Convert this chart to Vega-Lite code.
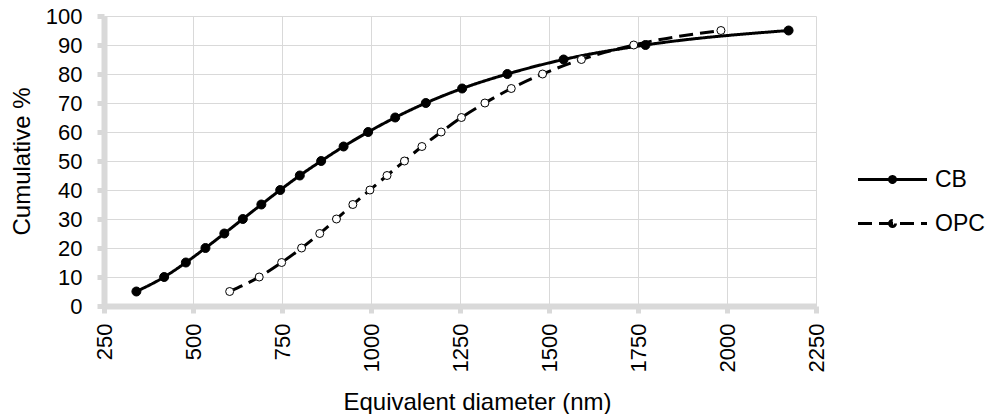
{
  "$schema": "https://vega.github.io/schema/vega-lite/v6.json",
  "width": 712,
  "height": 290,
  "autosize": {"type": "none"},
  "padding": {"left": 104, "top": 16, "right": 172, "bottom": 108},
  "background": "white",
  "config": {
    "font": "Liberation Sans",
    "view": {"stroke": null},
    "axis": {
      "gridColor": "#d9d9d9",
      "gridWidth": 1,
      "domainColor": "#d9d9d9",
      "domainWidth": 6,
      "tickColor": "#d9d9d9",
      "tickWidth": 5,
      "tickSize": 7,
      "labelFont": "Liberation Sans",
      "labelFontSize": 22,
      "labelColor": "#000000",
      "titleFont": "Liberation Sans",
      "titleFontSize": 24,
      "titleFontWeight": "normal",
      "titleColor": "#000000"
    },
    "legend": {
      "labelFont": "Liberation Sans",
      "labelFontSize": 23,
      "labelColor": "#000000",
      "labelOffset": 31,
      "rowPadding": 20,
      "padding": 0
    }
  },
  "data": {
    "values": [
      {"series": "CB", "dia": 341, "cum": 5},
      {"series": "CB", "dia": 419, "cum": 10},
      {"series": "CB", "dia": 480, "cum": 15},
      {"series": "CB", "dia": 535, "cum": 20},
      {"series": "CB", "dia": 588, "cum": 25},
      {"series": "CB", "dia": 640, "cum": 30},
      {"series": "CB", "dia": 692, "cum": 35},
      {"series": "CB", "dia": 745, "cum": 40},
      {"series": "CB", "dia": 800, "cum": 45},
      {"series": "CB", "dia": 860, "cum": 50},
      {"series": "CB", "dia": 923, "cum": 55},
      {"series": "CB", "dia": 992, "cum": 60},
      {"series": "CB", "dia": 1068, "cum": 65},
      {"series": "CB", "dia": 1154, "cum": 70},
      {"series": "CB", "dia": 1256, "cum": 75},
      {"series": "CB", "dia": 1383, "cum": 80},
      {"series": "CB", "dia": 1541, "cum": 85},
      {"series": "CB", "dia": 1771, "cum": 90},
      {"series": "CB", "dia": 2173, "cum": 95},
      {"series": "OPC", "dia": 603, "cum": 5},
      {"series": "OPC", "dia": 686, "cum": 10},
      {"series": "OPC", "dia": 749, "cum": 15},
      {"series": "OPC", "dia": 805, "cum": 20},
      {"series": "OPC", "dia": 856, "cum": 25},
      {"series": "OPC", "dia": 903, "cum": 30},
      {"series": "OPC", "dia": 949, "cum": 35},
      {"series": "OPC", "dia": 997, "cum": 40},
      {"series": "OPC", "dia": 1045, "cum": 45},
      {"series": "OPC", "dia": 1094, "cum": 50},
      {"series": "OPC", "dia": 1143, "cum": 55},
      {"series": "OPC", "dia": 1197, "cum": 60},
      {"series": "OPC", "dia": 1254, "cum": 65},
      {"series": "OPC", "dia": 1320, "cum": 70},
      {"series": "OPC", "dia": 1394, "cum": 75},
      {"series": "OPC", "dia": 1482, "cum": 80},
      {"series": "OPC", "dia": 1591, "cum": 85},
      {"series": "OPC", "dia": 1738, "cum": 90},
      {"series": "OPC", "dia": 1983, "cum": 95}
    ]
  },
  "encoding": {
    "x": {
      "field": "dia",
      "type": "quantitative",
      "scale": {"domain": [250, 2250], "nice": false, "zero": false},
      "axis": {
        "title": "Equivalent diameter (nm)",
        "values": [250, 500, 750, 1000, 1250, 1500, 1750, 2000, 2250],
        "format": "d",
        "labelAngle": -90,
        "labelPadding": 10,
        "titleX": 373,
        "titleY": 103,
        "titleBaseline": "alphabetic",
        "titleAnchor": "middle",
        "titleAlign": "center"
      }
    },
    "y": {
      "field": "cum",
      "type": "quantitative",
      "scale": {"domain": [0, 100], "nice": false},
      "axis": {
        "title": "Cumulative %",
        "values": [0, 10, 20, 30, 40, 50, 60, 70, 80, 90, 100],
        "labelPadding": 15,
        "titleX": -82,
        "titleY": 145,
        "titleAngle": -90,
        "titleBaseline": "middle",
        "titleAlign": "center"
      }
    }
  },
  "layer": [
    {
      "mark": {"type": "line", "color": "#000000", "strokeWidth": 3, "interpolate": "monotone"},
      "encoding": {
        "strokeDash": {
          "field": "series",
          "type": "nominal",
          "scale": {"domain": ["CB", "OPC"], "range": [[1, 0], [14, 7]]},
          "legend": {
            "title": null,
            "orient": "none",
            "legendX": 777,
            "legendY": 152,
            "symbolType": "M-34.5,0H34.5M3,0A3,3,0,1,1,-3,0A3,3,0,1,1,3,0",
            "symbolSize": 4,
            "symbolStrokeWidth": 3,
            "symbolStrokeColor": "#000000",
            "symbolFillColor": "#000000",
            "encode": {
              "symbols": {
                "update": {
                  "fill": {"signal": "datum.value === 'CB' ? '#000000' : '#ffffff'"},
                  "fillOpacity": {"value": 1},
                  "stroke": {"value": "#000000"},
                  "strokeWidth": {"value": 3},
                  "strokeOpacity": {"value": 1}
                }
              }
            }
          }
        }
      }
    },
    {
      "mark": {"type": "point", "filled": false, "stroke": "#000000", "strokeWidth": 1, "opacity": 1},
      "encoding": {
        "fill": {
          "condition": {"test": "datum.series === 'CB'", "value": "#000000"},
          "value": "#ffffff"
        },
        "size": {
          "condition": {"test": "datum.series === 'CB'", "value": 81},
          "value": 64
        }
      }
    }
  ]
}
